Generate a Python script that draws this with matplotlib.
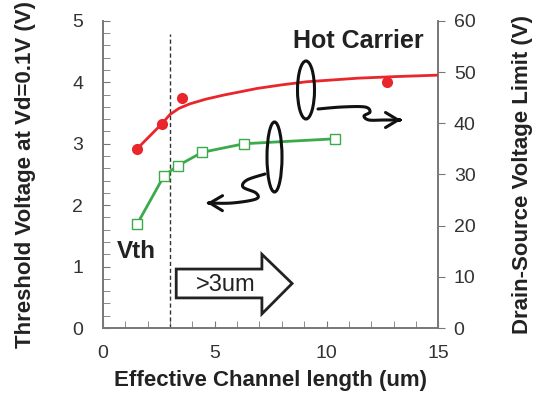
import numpy as np
import matplotlib
matplotlib.use("Agg")
import matplotlib.pyplot as plt
from matplotlib.patches import Ellipse, Polygon, FancyArrowPatch
from matplotlib.path import Path
from matplotlib.ticker import MultipleLocator

plt.rcParams['font.family'] = ['Liberation Sans', 'DejaVu Sans']

# threshold voltage (left axis)
vth_len = [1.53, 2.74, 3.34, 4.44, 6.32, 10.36]
vth = [1.69, 2.48, 2.64, 2.86, 3.00, 3.08]

# hot carrier limit (right axis), measured points
hc_len = [1.53, 2.64, 3.56, 12.7]
hc = [35.0, 39.9, 44.9, 48.0]

# hot carrier trend line (right axis)
fit_len = [1.53, 2.64, 3.0, 3.4, 3.9, 4.6, 5.4, 6.9, 8.0, 9.1, 11.4, 13.0, 15.0]
fit_hc = [35.0, 39.9, 41.7, 42.9, 43.8, 44.7, 45.5, 46.8, 47.5, 48.1, 48.8, 49.1, 49.4]

red = '#e8262b'
green = '#3aaa4a'
gray = '#777777'

fig = plt.figure(figsize=(5.44, 4.01), dpi=100)
ax = fig.add_axes([0.189, 0.182, 0.617, 0.766])
ax2 = ax.twinx()

ax.plot(vth_len, vth, color=green, lw=2, marker='s', ms=6.5,
        mfc='white', mec=green, mew=1, zorder=3)
ax2.plot(fit_len, fit_hc, color=red, lw=2, zorder=3)
ax2.plot(hc_len, hc, ls='none', marker='o', ms=7, color=red, zorder=4)

ax.axvline(3.0, ymax=4.78 / 5, color='#333333', lw=1, ls=(0, (3, 2)))

ax.set_xlim(0, 15)
ax.set_ylim(0, 5)
ax2.set_ylim(0, 60)

ax.xaxis.set_major_locator(MultipleLocator(5))
ax.xaxis.set_minor_locator(MultipleLocator(1))
ax.yaxis.set_major_locator(MultipleLocator(1))
ax.yaxis.set_minor_locator(MultipleLocator(0.2))
ax2.yaxis.set_major_locator(MultipleLocator(10))

ax.tick_params(axis='both', which='both', direction='in', length=5,
               color=gray, labelsize=14, labelcolor='#333333')
ax.tick_params(axis='x', pad=12)
ax.tick_params(axis='y', which='both', right=False, pad=14)
ax2.tick_params(axis='y', direction='out', length=5, color=gray,
                labelsize=14, labelcolor='#333333', pad=6)

for a in (ax, ax2):
    a.spines['top'].set_visible(False)
    for s in ('left', 'right', 'bottom'):
        a.spines[s].set_color(gray)
        a.spines[s].set_linewidth(1.2)

ax.set_xlabel('Effective Channel length (um)', fontsize=16,
              fontweight='bold', color='#222222', labelpad=6)
ax.set_ylabel('Threshold Voltage at Vd=0.1V (V)', fontsize=16,
              fontweight='bold', color='#222222', labelpad=26)
ax2.set_ylabel('Drain-Source Voltage Limit (V)', fontsize=16,
               fontweight='bold', color='#222222', labelpad=26)

ax.text(0.76, 0.935, 'Hot Carrier', transform=ax.transAxes, fontsize=18,
        fontweight='bold', color='#222222', ha='center', va='center')
ax.text(0.099, 0.248, 'Vth', transform=ax.transAxes, fontsize=17.5,
        fontweight='bold', color='#222222', ha='center', va='center')

# block arrow ">3um"
blk = Polygon([(3.28, 0.49), (3.28, 0.96), (7.11, 0.96), (7.11, 1.2),
               (8.46, 0.725), (7.11, 0.23), (7.11, 0.49)],
              closed=True, fc='white', ec='#222222', lw=2, zorder=5)
ax.add_patch(blk)
ax.text(5.5, 0.7, '>3um', fontsize=17, color='#222222',
        ha='center', va='center', zorder=6)


# hand drawn loops and arrows, in figure pixels
def fp(px, py):
    return (px / 544.0, 1 - py / 401.0)


def smooth(pts, n=12):
    pts = np.array(pts, float)
    pts = np.vstack([pts[0], pts, pts[-1]])
    out = []
    for i in range(1, len(pts) - 2):
        p0, p1, p2, p3 = pts[i - 1], pts[i], pts[i + 1], pts[i + 2]
        for t in np.linspace(0, 1, n, endpoint=False):
            out.append(0.5 * ((2 * p1) + (-p0 + p2) * t +
                              (2 * p0 - 5 * p1 + 4 * p2 - p3) * t ** 2 +
                              (-p0 + 3 * p1 - 3 * p2 + p3) * t ** 3))
    out.append(pts[-2])
    return [fp(x, y) for x, y in out]


for cx, cy, w, h in [(306, 90, 17, 58), (274.5, 157, 15, 70)]:
    e = Ellipse(fp(cx, cy), w / 544.0, h / 401.0, transform=fig.transFigure,
                fill=False, ec='#111111', lw=2.2)
    fig.add_artist(e)

squiggles = [
    [(318, 109), (342, 107), (365, 107), (370, 112), (364, 116), (369, 120),
     (384, 120), (401, 120)],
    [(265, 174), (247, 180), (243, 187), (256, 193), (256, 199), (232, 203),
     (207, 203)],
]
for pts in squiggles:
    v = smooth(pts)
    arr = FancyArrowPatch(path=Path(v), transform=fig.transFigure,
                          arrowstyle='->,head_length=0.5,head_width=0.3',
                          mutation_scale=18, lw=2.2, color='#111111')
    fig.add_artist(arr)

fig.savefig('out.png', dpi=100)
